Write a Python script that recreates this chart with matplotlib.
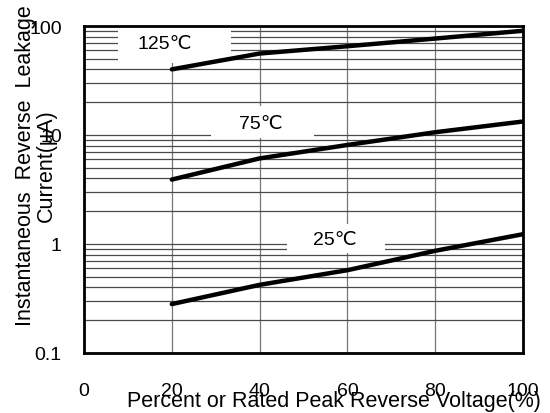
import numpy as np
import matplotlib.pyplot as plt
from matplotlib.patches import Rectangle
from matplotlib.ticker import FixedLocator, LogLocator, NullFormatter

plt.rcParams['font.family'] = ['Liberation Sans', 'DejaVu Sans']

# percent of rated peak reverse voltage
volts = [20, 40, 60, 80, 100]
# leakage current (uA) per junction temperature
i_125 = [40.0, 55.9, 65.2, 76.7, 90.4]
i_75 = [3.9, 6.1, 8.1, 10.6, 13.3]
i_25 = [0.281, 0.422, 0.575, 0.866, 1.23]
temps = ['125℃', '75℃', '25℃']

x_ticks = [0, 20, 40, 60, 80, 100]
y_ticks = [0.1, 1, 10, 100]
y_tick_labels = ['0.1', '1', '10', '100']

fig = plt.figure(figsize=(5.5, 4.14), dpi=100)
ax = fig.add_axes([84 / 550, 60 / 414, 439 / 550, 327 / 414])

ax.set_xlim(0, 100)
ax.set_yscale('log')
ax.set_ylim(0.1, 100)

ax.xaxis.set_major_locator(FixedLocator(x_ticks))
ax.set_xticklabels([str(v) for v in x_ticks])
ax.yaxis.set_major_locator(FixedLocator(y_ticks))
ax.set_yticklabels(y_tick_labels)
ax.yaxis.set_minor_locator(LogLocator(base=10, subs=np.arange(2, 10)))
ax.yaxis.set_minor_formatter(NullFormatter())

ax.tick_params(axis='both', which='both', length=0, labelsize=14)
ax.tick_params(axis='x', pad=21)
ax.tick_params(axis='y', pad=16)

ax.grid(axis='y', which='both', color='#4a4a4a', lw=0.9)
ax.grid(axis='x', which='major', color='#777777', lw=0.9)
ax.set_axisbelow(True)

for s in ax.spines.values():
    s.set_linewidth(2.0)
    s.set_color('black')

# white boxes behind the temperature labels
boxes = [(0.077, 0.887, 0.258, 0.113), (0.289, 0.657, 0.235, 0.098),
         (0.462, 0.306, 0.224, 0.088)]
text_pos = [(0.185, 0.945), (0.402, 0.703), (0.572, 0.346)]
for (bx, by, bw, bh), (tx, ty), t in zip(boxes, text_pos, temps):
    ax.add_patch(Rectangle((bx, by), bw, bh, transform=ax.transAxes,
                           facecolor='white', edgecolor='none', zorder=1.5))
    ax.text(tx, ty, t, transform=ax.transAxes, fontsize=14,
            ha='center', va='center', zorder=3)

for ys in (i_125, i_75, i_25):
    ax.plot(volts, ys, color='black', lw=3.2, solid_capstyle='round',
            zorder=2.5)

fig.text(36 / 550, 1 - 166 / 414,
         'Instantaneous  Reverse  Leakage\nCurrent(μA)',
         rotation=90, ha='center', va='center', fontsize=15.5,
         multialignment='center', linespacing=0.95)
fig.text(334 / 550, 1 - 402 / 414,
         'Percent or Rated Peak Reverse Voltage(%)',
         ha='center', va='center', fontsize=15.5)

fig.savefig('out.png', dpi=100)
